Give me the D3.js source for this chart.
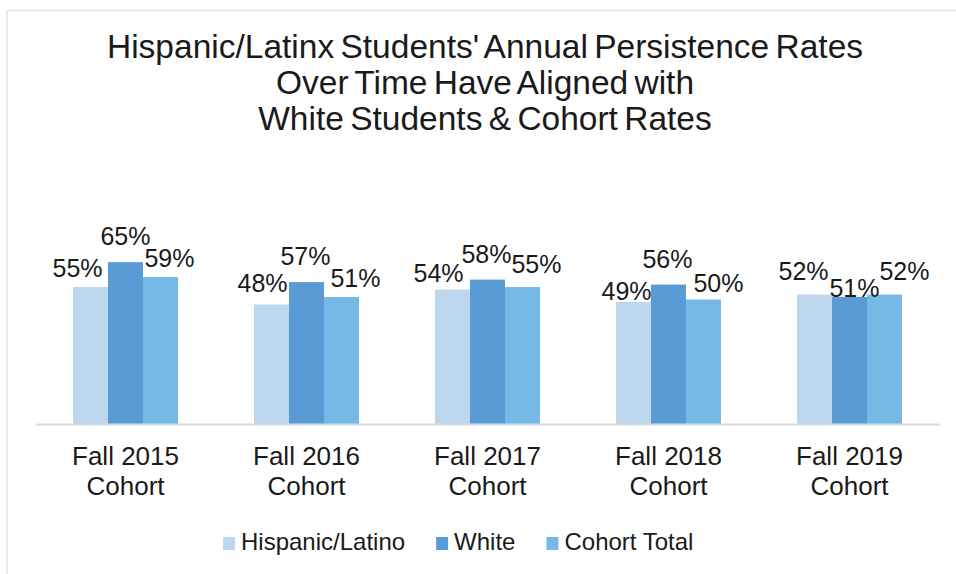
<!DOCTYPE html>
<html>
<head>
<meta charset="utf-8">
<script src="https://cdn.jsdelivr.net/npm/d3@7"></script>
<style>
  body { margin: 0; background: #fff; }
  svg { display: block; font-family: "Liberation Sans", Arial, sans-serif; }
</style>
</head>
<body>
<script>
// chart data
var cohorts = ["Fall 2015 Cohort", "Fall 2016 Cohort", "Fall 2017 Cohort", "Fall 2018 Cohort", "Fall 2019 Cohort"];
var seriesNames = ["Hispanic/Latino", "White", "Cohort Total"];
var hispanic = [0.55, 0.48, 0.54, 0.49, 0.52];
var white = [0.65, 0.57, 0.58, 0.56, 0.51];
var cohortTotal = [0.59, 0.51, 0.55, 0.50, 0.52];
var titleLines = ["Hispanic/Latinx Students' Annual Persistence Rates", "Over Time Have Aligned with", "White Students & Cohort Rates"];

var colors = ["#bdd7ee", "#5b9bd5", "#77b9e6"];

// label nudges [dx, gap above bar] per cohort per series (the original labels were moved by hand)
var labelNudge = [
    [[-13, 10], [0, 17], [9, 10]],
    [[-9, 12], [-1, 17], [14, 10]],
    [[-14, 8], [-1, 17], [14, 14]],
    [[-7, 2], [-1, 17], [15, 8]],
    [[-11, 15], [5, 0], [20, 15]]
];

var width = 956, height = 574;
var margin = {left: 35, right: 16, bottom: 150};

var svg = d3.select("body").append("svg")
    .attr("width", width)
    .attr("height", height);

// faint frame like the pasted chart area
svg.append("rect")
    .attr("x", 7).attr("y", 10.5)
    .attr("width", width + 20).attr("height", height + 20)
    .attr("fill", "none")
    .attr("stroke", "#e3e3e3")
    .attr("stroke-width", 1.5);

// title
svg.append("text")
    .attr("text-anchor", "middle")
    .attr("font-size", 33.5)
    .attr("fill", "#1a1a1a")
    .selectAll("tspan")
    .data(titleLines)
    .enter().append("tspan")
        .attr("x", 485)
        .attr("y", function(d, i) { return 58 + i * 36 })
        .attr("word-spacing", -3)
        .text(function(d) { return d });

var baseY = height - margin.bottom;

var x = d3.scaleBand()
    .domain(cohorts)
    .range([margin.left, width - margin.right])
    .paddingInner(0.42)
    .paddingOuter(0.21);

var x1 = d3.scaleBand()
    .domain(seriesNames)
    .range([0, x.bandwidth()]);

var y = d3.scaleLinear()
    .domain([0, 1])
    .range([baseY, baseY - 249]);

var rows = cohorts.map(function(c, i) {
    return {cohort: c, values: [hispanic[i], white[i], cohortTotal[i]]};
});

var groups = svg.selectAll(".grp")
    .data(rows)
    .enter().append("g")
        .attr("class", "grp")
        .attr("transform", function(d) { return "translate(" + x(d.cohort) + ",0)" });

groups.selectAll("rect")
    .data(function(d) { return d.values })
    .enter().append("rect")
        .attr("x", function(d, i) { return x1(seriesNames[i]) })
        .attr("y", function(d) { return y(d) })
        .attr("width", x1.bandwidth())
        .attr("height", function(d) { return baseY - y(d) })
        .attr("fill", function(d, i) { return colors[i] });

groups.selectAll(".lbl")
    .data(function(d, gi) { return d.values.map(function(v, si) { return {v: v, gi: gi, si: si} }) })
    .enter().append("text")
        .attr("class", "lbl")
        .attr("text-anchor", "middle")
        .attr("font-size", 25)
        .attr("fill", "#1a1a1a")
        .attr("x", function(d) { return x1(seriesNames[d.si]) + x1.bandwidth() / 2 + labelNudge[d.gi][d.si][0] })
        .attr("y", function(d) { return y(d.v) - labelNudge[d.gi][d.si][1] })
        .text(function(d) { return d3.format(".0%")(d.v) });

// x axis
var xAxis = svg.append("g")
    .attr("transform", "translate(0," + baseY + ")")
    .call(d3.axisBottom(x).tickSize(0).tickPadding(0));

xAxis.select(".domain")
    .attr("stroke", "#d9d9d9")
    .attr("stroke-width", 2);

xAxis.selectAll(".tick text").remove();
xAxis.selectAll(".tick").append("text")
    .attr("text-anchor", "middle")
    .attr("font-size", 26)
    .attr("fill", "#1a1a1a")
    .selectAll("tspan")
    .data(function(d) { var p = d.split(" "); return [p[0] + " " + p[1], p[2]] })
    .enter().append("tspan")
        .attr("x", 0)
        .attr("y", function(d, i) { return 41 + i * 30 })
        .text(function(d) { return d });

// legend
var legend = svg.append("g").attr("transform", "translate(223,550)");
var lx = 0;
seriesNames.forEach(function(name, i) {
    var item = legend.append("g").attr("transform", "translate(" + lx + ",0)");
    item.append("rect")
        .attr("x", 0).attr("y", -13)
        .attr("width", 12).attr("height", 13)
        .attr("fill", colors[i]);
    var t = item.append("text")
        .attr("x", 18)
        .attr("font-size", 24)
        .attr("fill", "#1a1a1a")
        .text(name);
    lx += 18 + t.node().getComputedTextLength() + 31;
});
</script>
</body>
</html>
